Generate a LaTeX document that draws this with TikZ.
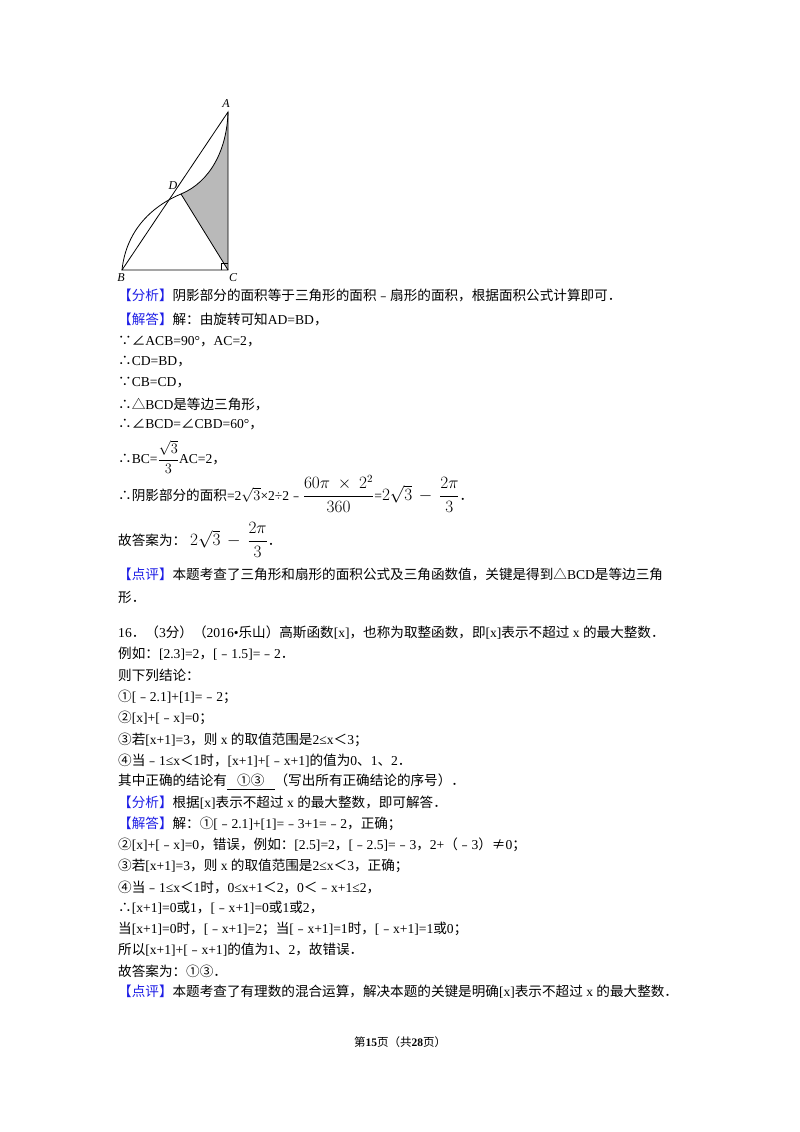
\documentclass[tikz,border=0pt]{standalone}
\usepackage{amsmath}
\usepackage{fontspec}
\setmainfont{Liberation Serif}
\newfontfamily\cjk{Noto Sans CJK SC}
\newfontfamily\lat{Liberation Serif}
\XeTeXinterchartokenstate=1
\newXeTeXintercharclass\CJKc
\count255="3000 \loop \XeTeXcharclass\count255=\CJKc \ifnum\count255<"9FFF \advance\count255 by 1 \repeat
\count255="FE30 \loop \XeTeXcharclass\count255=\CJKc \ifnum\count255<"FFEF \advance\count255 by 1 \repeat
\count255="2460 \loop \XeTeXcharclass\count255=\CJKc \ifnum\count255<"2473 \advance\count255 by 1 \repeat
\XeTeXcharclass"2234=\CJKc \XeTeXcharclass"2235=\CJKc \XeTeXcharclass"25B3=\CJKc
\XeTeXcharclass"2220=\CJKc \XeTeXcharclass"2260=\CJKc
\XeTeXinterchartoks 0 \CJKc = {\cjk}
\XeTeXinterchartoks 4095 \CJKc = {\cjk}
\XeTeXinterchartoks \CJKc 0 = {\lat}
\XeTeXinterchartoks \CJKc 4095 = {\lat}
\definecolor{tagblue}{RGB}{30,30,230}
\newcommand{\tg}[1]{{\color{tagblue}【#1】}}
\newcommand{\bg}[1]{{\fontsize{16}{18}\selectfont$#1$}}
\begin{document}
\begin{tikzpicture}[x=1pt,y=-1pt,
  ln/.style={anchor=west,inner sep=0pt,font=\fontsize{13.6}{15}\selectfont},
  lbl/.style={font=\fontsize{12}{12}\selectfont\itshape,inner sep=0pt}]
\useasboundingbox (0,0) rectangle (800,1132);
\fill[white] (0,0) rectangle (800,1132);
% figure
\coordinate (A) at (228,112); \coordinate (B) at (122,270);
\coordinate (C) at (228,270); \coordinate (D) at (181,194);
\fill[gray!55] (D) .. controls (210,182) and (227,150) .. (A) -- (C) -- cycle;
\draw[line width=0.8pt] (D) .. controls (210,182) and (227,150) .. (A);
\draw[line width=0.8pt] (B) .. controls (126,232) and (150,207) .. (D);
\draw[line width=0.8pt] (A) -- (B) -- (C) -- cycle;
\draw[line width=0.8pt] (D) -- (C);
\draw[line width=0.6pt] (221,270) -- (221,263) -- (228,263);
\node[lbl] (la) at (226,104) {A};
\node[lbl] (lb) at (121,278) {B};
\node[lbl] (lc) at (233,278) {C};
\node[lbl] (ld) at (173,186) {D};
% text
\node[ln] (t1) at (118,295) {\tg{分析}阴影部分的面积等于三角形的面积﹣扇形的面积，根据面积公式计算即可．};
\node[ln] (t2) at (118,319) {\tg{解答}解：由旋转可知AD=BD，};
\node[ln] (t3) at (118,341) {∵∠ACB=90°，AC=2，};
\node[ln] (t4) at (118,362) {∴CD=BD，};
\node[ln] (t5) at (118,383) {∵CB=CD，};
\node[ln] (t6) at (118,404) {∴△BCD是等边三角形，};
\node[ln] (t7) at (118,424) {∴∠BCD=∠CBD=60°，};
\node[ln] (t8) at (118,457) {∴BC={\fontsize{14.5}{16}\selectfont$\dfrac{\sqrt{3}}{3}$}AC=2，};
\node[ln] (t9) at (118,494) {∴阴影部分的面积=2$\sqrt{3}$×2÷2﹣\bg{\dfrac{60\pi\ \times\ 2^2}{360}}=\bg{2\sqrt{3}\,-\,\dfrac{2\pi}{3}}．};
\node[ln] (t10) at (118,540) {故答案为：\bg{\ 2\sqrt{3}\,-\,\dfrac{2\pi}{3}}．};
\node[ln] (t11) at (118,574) {\tg{点评}本题考查了三角形和扇形的面积公式及三角函数值，关键是得到△BCD是等边三角};
\node[ln] (t12) at (118,597) {形．};
\node[ln] (u1) at (118,633) {16．（3分）（2016•乐山）高斯函数[x]，也称为取整函数，即[x]表示不超过 x 的最大整数．};
\node[ln] (u2) at (118,654) {例如：[2.3]=2，[﹣1.5]=﹣2．};
\node[ln] (u3) at (118,675) {则下列结论：};
\node[ln] (u4) at (118,697) {①[﹣2.1]+[1]=﹣2；};
\node[ln] (u5) at (118,718) {②[x]+[﹣x]=0；};
\node[ln] (u6) at (118,740) {③若[x+1]=3，则 x 的取值范围是2≤x＜3；};
\node[ln] (u7) at (118,761) {④当﹣1≤x＜1时，[x+1]+[﹣x+1]的值为0、1、2．};
\node[ln] (u8) at (118,782) {其中正确的结论有\underline{\ \ \ ①③\ \ \ }（写出所有正确结论的序号）．};
\node[ln] (u9) at (118,803) {\tg{分析}根据[x]表示不超过 x 的最大整数，即可解答．};
\node[ln] (u10) at (118,824) {\tg{解答}解：①[﹣2.1]+[1]=﹣3+1=﹣2，正确；};
\node[ln] (u11) at (118,845) {②[x]+[﹣x]=0，错误，例如：[2.5]=2，[﹣2.5]=﹣3，2+（﹣3）≠0；};
\node[ln] (u12) at (118,866) {③若[x+1]=3，则 x 的取值范围是2≤x＜3，正确；};
\node[ln] (u13) at (118,887) {④当﹣1≤x＜1时，0≤x+1＜2，0＜﹣x+1≤2，};
\node[ln] (u14) at (118,908) {∴[x+1]=0或1，[﹣x+1]=0或1或2，};
\node[ln] (u15) at (118,929) {当[x+1]=0时，[﹣x+1]=2；当[﹣x+1]=1时，[﹣x+1]=1或0；};
\node[ln] (u16) at (118,950) {所以[x+1]+[﹣x+1]的值为1、2，故错误．};
\node[ln] (u17) at (118,971) {故答案为：①③．};
\node[ln] (u18) at (118,992) {\tg{点评}本题考查了有理数的混合运算，解决本题的关键是明确[x]表示不超过 x 的最大整数．};
\node[inner sep=0pt,font=\fontsize{11.5}{13}\selectfont] (pg) at (400,1042) {第\textbf{15}页（共\textbf{28}页）};
\end{tikzpicture}
\end{document}
